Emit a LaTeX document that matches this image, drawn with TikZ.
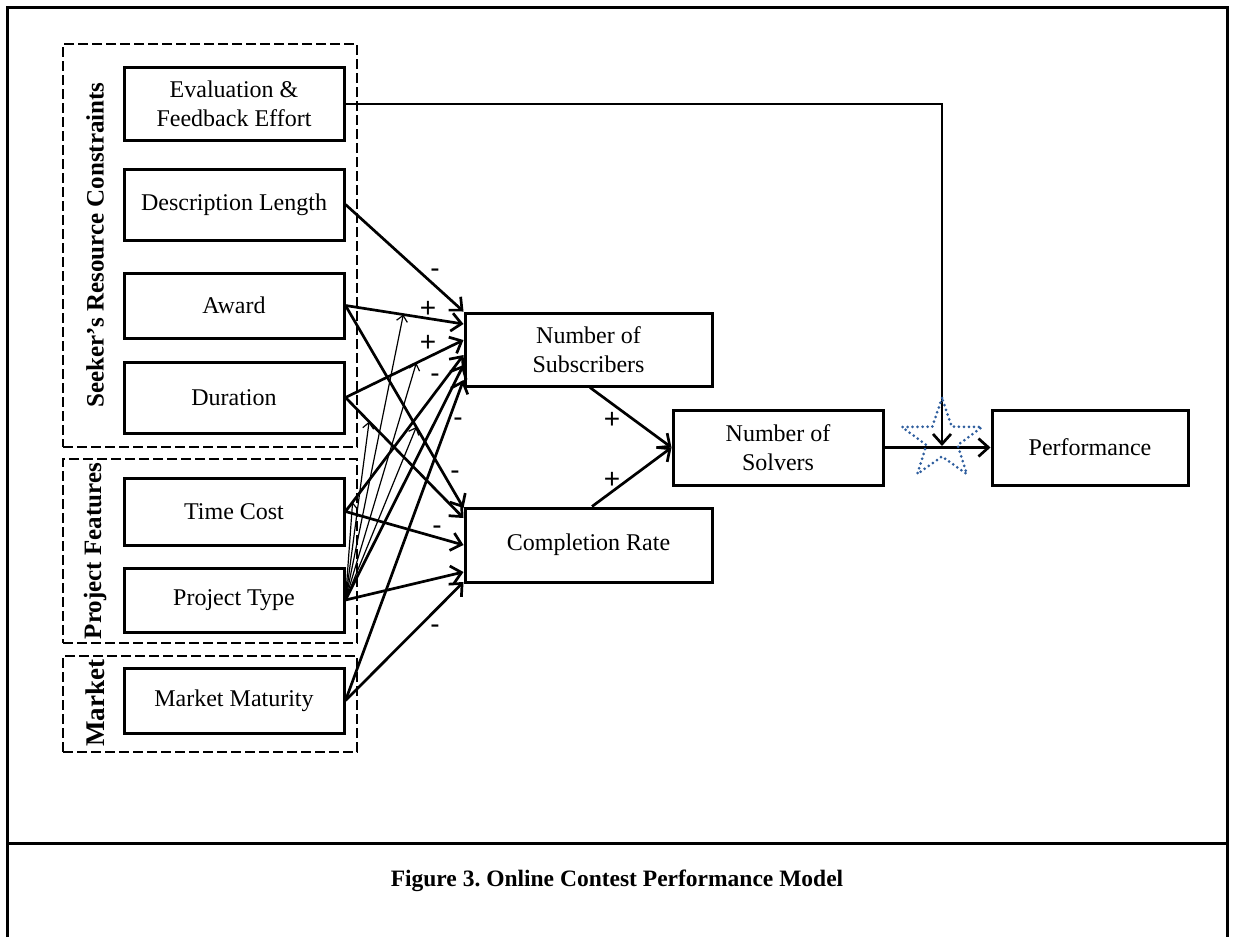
\documentclass[tikz,border=0pt]{standalone}
\usepackage{fontspec}
\setmainfont{Liberation Serif}
\newfontfamily\labfont{Liberation Sans}
\usetikzlibrary{arrows.meta,calc}
\definecolor{stardot}{RGB}{46,94,158}
\begin{document}
\begin{tikzpicture}[x=1pt,y=-1pt,
  box/.style={draw,line width=3pt,inner sep=0pt,align=center,font=\fontsize{24}{29}\selectfont},
  grp/.style={draw,line width=2.5pt,dash pattern=on 10pt off 4pt,inner sep=0pt},
  grplab/.style={rotate=90,font=\bfseries\fontsize{25}{29}\selectfont,inner sep=0pt},
  arr/.style={line width=2.7pt,-{Straight Barb[length=10pt,width=18pt]}},
  modarr/.style={line width=1.2pt,-{Straight Barb[length=6pt,width=11pt]}},
  sgn/.style={font=\labfont\fontsize{28}{28}\selectfont,inner sep=0pt},
  starline/.style={draw=stardot,line width=3pt,dash pattern=on 0pt off 5pt,line cap=round,line join=round}
]
\useasboundingbox (0,0) rectangle (1233,937);
% frame
\draw[line width=3pt] (7,937) -- (7,7) -- (1227,7) -- (1227,937);
\draw[line width=3pt] (7,843) -- (1227,843);

% groups
\node[grp,minimum width=294pt,minimum height=403pt] (gseek) at (210,245.5) {};
\node[grp,minimum width=294pt,minimum height=184pt] (gproj) at (210,551) {};
\node[grp,minimum width=294pt,minimum height=96pt] (gmkt) at (210,704) {};
\node[grplab] (lseek) at (95,245) {Seeker’s Resource Constraints};
\node[grplab] (lproj) at (95,551) {Project Features};
\node[grplab,font=\bfseries\fontsize{27}{29}\selectfont] (lmkt) at (95,703) {Market};

% left boxes
\node[box,minimum width=220pt,minimum height=73pt] (eval) at (234,104) {Evaluation \&\\Feedback Effort};
\node[box,minimum width=220pt,minimum height=71pt] (desc) at (234,204.5) {Description Length};
\node[box,minimum width=220pt,minimum height=65pt] (award) at (234,305.5) {Award};
\node[box,minimum width=220pt,minimum height=71pt] (dur) at (234,397.5) {Duration};
\node[box,minimum width=220pt,minimum height=67pt] (tcost) at (234,511.5) {Time Cost};
\node[box,minimum width=220pt,minimum height=64pt] (ptype) at (234,600) {Project Type};
\node[box,minimum width=220pt,minimum height=65pt] (mkt) at (234,700.5) {Market Maturity};

% middle / right boxes
\node[box,minimum width=247pt,minimum height=73pt] (subs) at (588.5,349.5) {Number of\\Subscribers};
\node[box,minimum width=247pt,minimum height=74pt] (cr) at (588.5,545) {Completion Rate};
\node[box,minimum width=210pt,minimum height=75pt] (solv) at (778,447.5) {Number of\\Solvers};
\node[box,minimum width=196pt,minimum height=75pt] (perf) at (1090,447.5) {Performance};

% arrow end points
\coordinate (sA) at ($(subs.west)+(0,-25.5)$);
\coordinate (sD) at ($(subs.west)+(0,-9.5)$);
\coordinate (sT) at ($(subs.west)+(0,5.5)$);
\coordinate (sP) at ($(subs.west)+(0,15.5)$);
\coordinate (sM) at ($(subs.west)+(0,30.5)$);
\coordinate (cA) at ($(cr.west)+(0,-37)$);
\coordinate (cD) at ($(cr.west)+(0,-27)$);
\coordinate (cT) at (cr.west);
\coordinate (cP) at ($(cr.west)+(0,27)$);
\coordinate (cM) at ($(cr.west)+(0,37)$);
\coordinate (mod) at (942,446);
\coordinate (starc) at (942,440);

% main arrows
\draw[arr] (desc.east) -- (subs.north west);
\draw[arr] (award.east) -- (sA);
\draw[arr] (award.east) -- (cA);
\draw[arr] (dur.east) -- (sD);
\draw[arr] (dur.east) -- (cD);
\draw[arr] (tcost.east) -- (sT);
\draw[arr] (tcost.east) -- (cT);
\draw[arr] (ptype.east) -- (sP);
\draw[arr] (ptype.east) -- (cP);
\draw[arr] (mkt.east) -- (sM);
\draw[arr] (mkt.east) -- (cM);

% moderating arrows
\draw[modarr] (ptype.east) -- ($(award.east)!0.49!(sA)$);
\draw[modarr] (ptype.east) -- ($(dur.east)!0.60!(sD)$);
\draw[modarr] (ptype.east) -- ($(award.east)!0.60!(cA)$);
\draw[modarr] (ptype.east) -- ($(dur.east)!0.20!(cD)$);
\draw[modarr] (ptype.east) -- ($(tcost.east)!0.06!(sT)$);

% to solvers, performance
\draw[arr] ($(subs.south west)!0.506!(subs.south east)$) -- (solv.west);
\draw[arr] ($(cr.north west)!0.514!(cr.north east)$) -- (solv.west);
\draw[arr] (solv.east) -- (perf.west);
\draw[arr] (eval.east) -| (mod);

% star
\draw[starline] ($(starc)+(90:42pt)$) -- ($(starc)+(126:16.5pt)$) -- ($(starc)+(162:42pt)$) -- ($(starc)+(198:16.5pt)$) -- ($(starc)+(234:42pt)$) -- ($(starc)+(270:16.5pt)$) -- ($(starc)+(306:42pt)$) -- ($(starc)+(342:16.5pt)$) -- ($(starc)+(18:42pt)$) -- ($(starc)+(54:16.5pt)$) -- cycle;

% signs
\node[sgn] (l1) at (435,273) {-};
\node[sgn] (l2) at (428,309) {+};
\node[sgn] (l3) at (428,343) {+};
\node[sgn] (l4) at (435,378) {-};
\node[sgn] (l5) at (458,422) {-};
\node[sgn] (l6) at (455,475) {-};
\node[sgn] (l7) at (437,530) {-};
\node[sgn] (l8) at (435,629) {-};
\node[sgn] (l9) at (612,420) {+};
\node[sgn] (l10) at (612,480) {+};

% caption
\node[font=\bfseries\fontsize{23.5}{28}\selectfont,inner sep=0pt] (cap) at (617,881) {Figure 3.\ Online Contest Performance Model};
\end{tikzpicture}
\end{document}
